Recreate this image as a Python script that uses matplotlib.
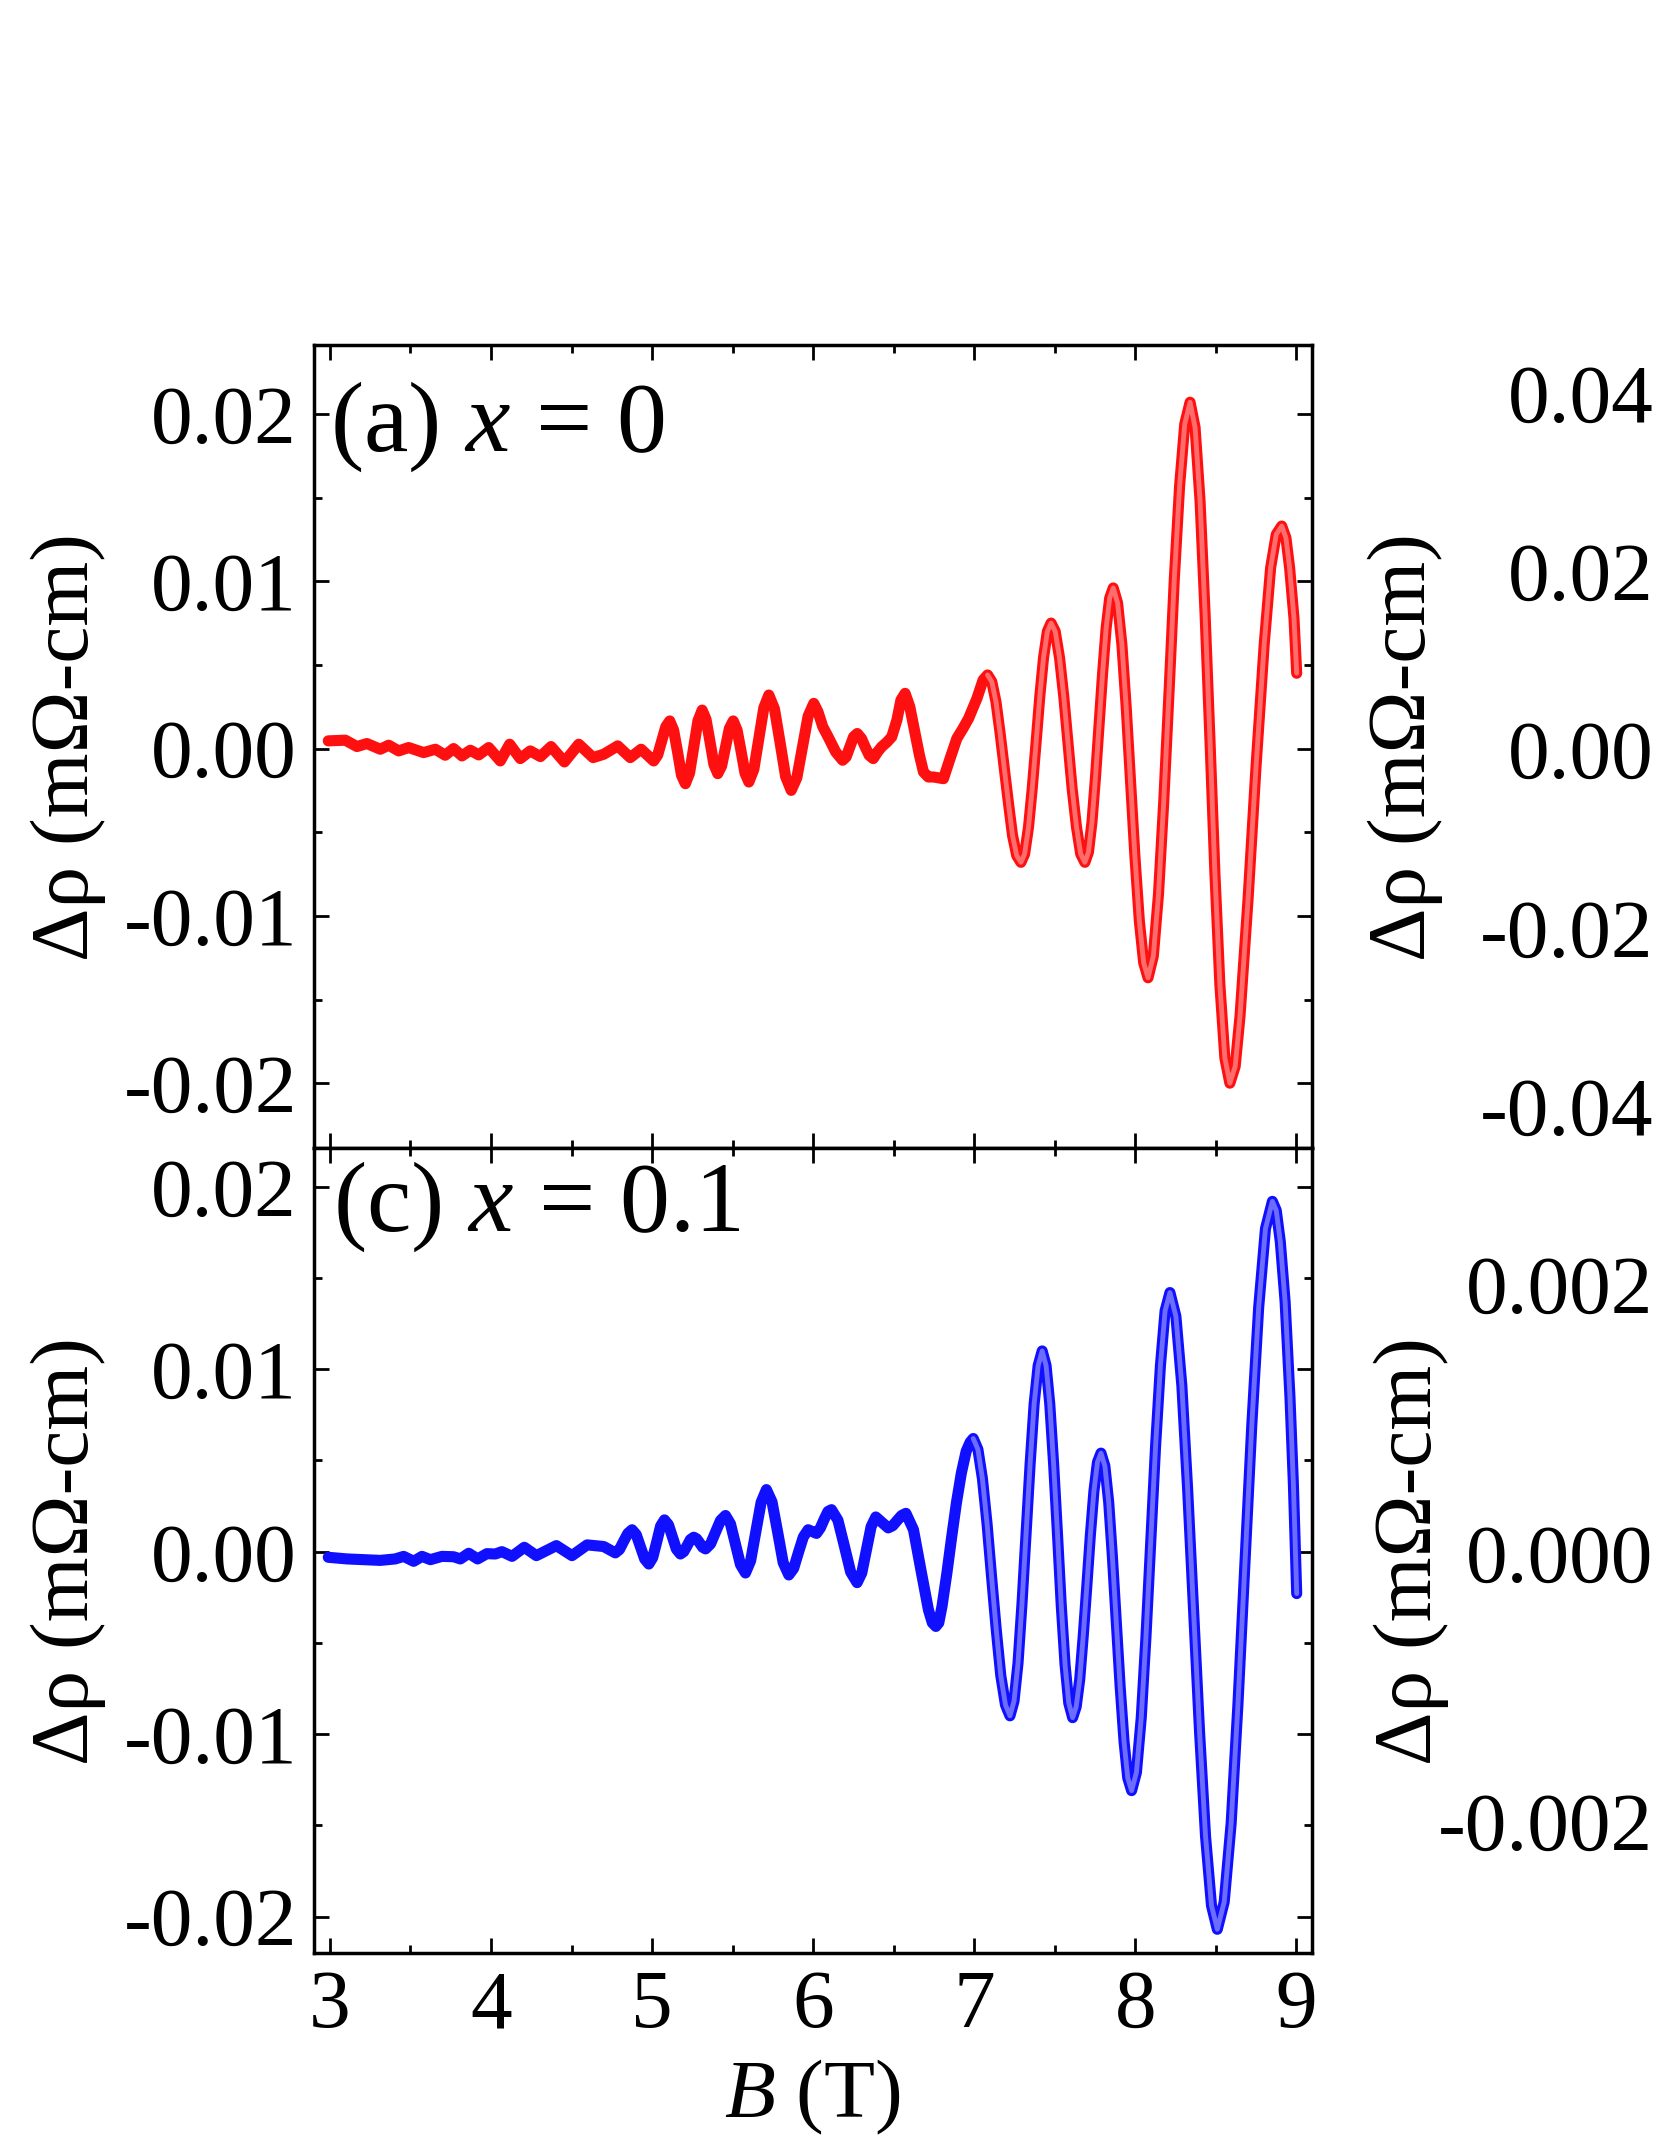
import matplotlib
matplotlib.use("Agg")
import matplotlib.pyplot as plt
from matplotlib.ticker import MultipleLocator, FormatStrFormatter

# ---- data: B (T) and delta rho (mOhm-cm) ----
field_a = [2.99, 3.096, 3.168, 3.230, 3.313, 3.365, 3.427, 3.489, 3.582, 3.655,
           3.716, 3.768, 3.820, 3.872, 3.924, 3.986, 4.058, 4.116, 4.182, 4.244,
           4.307, 4.373, 4.456, 4.545, 4.634, 4.700, 4.787, 4.865, 4.932, 5.010,
           5.035, 5.060, 5.085, 5.110, 5.134, 5.159, 5.183, 5.207, 5.233, 5.259, 5.285, 5.311,
           5.335, 5.360, 5.384, 5.408, 5.432, 5.456, 5.480, 5.504, 5.528, 5.553, 5.577, 5.601,
           5.632, 5.663, 5.694, 5.725, 5.760, 5.795, 5.829, 5.864, 5.899, 5.934, 5.969, 6.004,
           6.030, 6.060, 6.093, 6.140, 6.183, 6.205, 6.228, 6.251, 6.274, 6.300, 6.323, 6.348, 6.373,
           6.400, 6.425, 6.460, 6.488, 6.520, 6.545, 6.571, 6.600, 6.633, 6.660, 6.685, 6.715, 6.747,
           6.809, 6.850, 6.892, 6.930, 6.965, 7.017, 7.055, 7.083,
           7.109, 7.135, 7.161, 7.187, 7.213, 7.238, 7.264, 7.290,
           7.313, 7.337, 7.360, 7.384, 7.407, 7.430, 7.454, 7.477,
           7.503, 7.530, 7.556, 7.582, 7.608, 7.635, 7.661, 7.687,
           7.709, 7.731, 7.753, 7.775, 7.797, 7.819, 7.841, 7.863,
           7.890, 7.917, 7.944, 7.971, 7.998, 8.025, 8.052, 8.079,
           8.112, 8.144, 8.177, 8.210, 8.242, 8.275, 8.307, 8.340,
           8.371, 8.402, 8.433, 8.464, 8.494, 8.525, 8.556, 8.587,
           8.620, 8.650, 8.700, 8.750, 8.800, 8.840, 8.875, 8.909,
           8.935, 8.958, 8.985, 9.002]
drho_a = [0.00046, 0.0005, 0.00012, 0.0003, -0.00004, 0.0002, -0.00014, 0.00006, -0.00024, -0.00004,
          -0.0004, 0.0, -0.00044, -0.0001, -0.00038, 0.00006, -0.00074, 0.00026, -0.0006, -0.00014,
          -0.00048, 0.00012, -0.0008, 0.00026, -0.00054, -0.00034, 0.00016, -0.00054, -0.00004, -0.00074,
          -0.00039, 0.00046, 0.0013, 0.00165, 0.0011, -0.00023, -0.0016, -0.0021, -0.00146, 0.0001, 0.00166, 0.0023,
          0.00175, 0.0004, -0.00095, -0.0015, -0.00104, 0.00008, 0.0012, 0.00165, 0.0011, -0.00018, -0.00147, -0.0020,
          -0.00124, 0.0006, 0.00244, 0.0032, 0.00237, 0.00035, -0.00167, -0.0025, -0.00174, 0.0001, 0.00194, 0.0027,
          0.0022, 0.0013, 0.0007, -0.0002, -0.0007, -0.0005, 0.0001, 0.0007, 0.0009, 0.0006, 0.0001, -0.0004, -0.0006,
          -0.0002, 0.0001, 0.0004, 0.0007, 0.0017, 0.0029, 0.0033, 0.0025, 0.0009, -0.0004, -0.0014, -0.0017, -0.0017,
          -0.0018, -0.0006, 0.0006, 0.0012, 0.0018, 0.0030, 0.0041, 0.0044,
          0.0040, 0.0028, 0.0009, -0.0012, -0.0033, -0.0052, -0.0064, -0.0068,
          -0.0063, -0.0047, -0.0024, 0.00035, 0.0031, 0.0054, 0.0070, 0.0075,
          0.0070, 0.0054, 0.0031, 0.00035, -0.0024, -0.0047, -0.0063, -0.0068,
          -0.0062, -0.0044, -0.0017, 0.0014, 0.0045, 0.0072, 0.0090, 0.0096,
          0.0087, 0.0062, 0.0024, -0.0021, -0.0065, -0.0103, -0.0128, -0.0137,
          -0.0124, -0.0087, -0.0031, 0.0035, 0.0101, 0.0157, 0.0194, 0.0207,
          0.0192, 0.0148, 0.0081, 0.0004, -0.0074, -0.0141, -0.0185, -0.0200,
          -0.0190, -0.0160, -0.0090, -0.0010, 0.0062, 0.0108, 0.0128, 0.0133,
          0.0126, 0.0108, 0.0078, 0.0045]

field_c = [2.99, 3.106, 3.209, 3.313, 3.406, 3.458, 3.520, 3.572, 3.624, 3.696,
           3.768, 3.810, 3.862, 3.917, 3.975, 4.027, 4.068, 4.131, 4.207, 4.282,
           4.406, 4.503, 4.597, 4.700,
           4.772, 4.798, 4.824, 4.850, 4.876, 4.902, 4.928, 4.954, 4.980, 5.004, 5.029, 5.053, 5.077,
           5.102, 5.127, 5.151, 5.176, 5.197, 5.218, 5.238, 5.259, 5.277, 5.296, 5.314, 5.332,
           5.363, 5.394, 5.425, 5.456,
           5.487, 5.518, 5.549, 5.580, 5.612, 5.645, 5.677, 5.710, 5.745, 5.780, 5.814, 5.849,
           5.879, 5.909, 5.939, 5.969, 5.995, 6.021, 6.045, 6.070, 6.092, 6.114,
           6.154, 6.194, 6.233, 6.273, 6.302, 6.331, 6.360, 6.389, 6.428, 6.466, 6.494, 6.521,
           6.549, 6.576, 6.623, 6.669, 6.716, 6.740, 6.762,
           6.780, 6.800, 6.830, 6.860, 6.890, 6.920, 6.950, 6.975, 6.994,
           7.023, 7.051, 7.080, 7.108, 7.137, 7.165, 7.194, 7.222,
           7.247, 7.272, 7.297, 7.322, 7.347, 7.372, 7.397, 7.422,
           7.446, 7.469, 7.493, 7.517, 7.540, 7.564, 7.587, 7.611,
           7.633, 7.655, 7.677, 7.699, 7.721, 7.743, 7.765, 7.787,
           7.811, 7.835, 7.858, 7.882, 7.906, 7.930, 7.953, 7.977,
           8.007, 8.037, 8.066, 8.096, 8.126, 8.156, 8.185, 8.215,
           8.252, 8.289, 8.325, 8.362, 8.399, 8.436, 8.473, 8.509,
           8.552, 8.595, 8.637, 8.680, 8.723, 8.766, 8.808, 8.851,
           8.875, 8.900, 8.930, 8.960, 8.981, 9.002]
drho_c = [-0.00031, -0.0004, -0.00044, -0.00048, -0.0004, -0.00026, -0.00053, -0.00026, -0.00044, -0.00026,
          -0.00028, -0.0004, -0.00009, -0.0004, -0.00011, -0.00013, 0.0, -0.00026, 0.00024, -0.00022,
          0.00033, -0.00022, 0.00037, 0.00028,
          -0.00007, 0.00012, 0.00057, 0.001, 0.0012, 0.00093, 0.00026, -0.0004, -0.00068, -0.00033, 0.00053, 0.0014, 0.00174,
          0.00147, 0.0008, 0.00014, -0.00013, 0.0, 0.00033, 0.00066, 0.00079, 0.0007, 0.00047, 0.00024, 0.00015,
          0.00042, 0.00107, 0.00171, 0.00198,
          0.00152, 0.0004, -0.00071, -0.00117, -0.0005, 0.00112, 0.0027, 0.0034, 0.00272, 0.00106, -0.0006, -0.00128,
          -0.00092, -0.00004, 0.0008, 0.0012, 0.0011, 0.001, 0.0013, 0.0018, 0.0022, 0.0023,
          0.00172, 0.0003, -0.00112, -0.0017, -0.00117, 0.0001, 0.00137, 0.0019, 0.0016, 0.0013, 0.00142, 0.0017,
          0.00198, 0.0021, 0.0012, -0.001, -0.0032, -0.0039, -0.0041,
          -0.0039, -0.0030, -0.0012, 0.0008, 0.0027, 0.0043, 0.0055, 0.0060, 0.0062,
          0.0056, 0.0040, 0.0015, -0.0014, -0.0043, -0.0068, -0.0084, -0.0090,
          -0.0082, -0.0061, -0.0028, 0.0010, 0.0048, 0.0081, 0.0102, 0.0110,
          0.0102, 0.0081, 0.0048, 0.00095, -0.0029, -0.0062, -0.0083, -0.0091,
          -0.0085, -0.0070, -0.0046, -0.0019, 0.0009, 0.0033, 0.0049, 0.0054,
          0.0047, 0.0027, -0.0003, -0.0039, -0.0074, -0.0104, -0.0124, -0.0131,
          -0.0121, -0.0091, -0.0047, 0.0006, 0.0058, 0.0102, 0.0132, 0.0142,
          0.0129, 0.0091, 0.0034, -0.0033, -0.0099, -0.0156, -0.0194, -0.0207,
          -0.0192, -0.0149, -0.0084, -0.0008, 0.0069, 0.0134, 0.0177, 0.0192,
          0.0187, 0.0170, 0.0137, 0.0085, 0.0038, -0.0023]

x_ticks = [3, 4, 5, 6, 7, 8, 9]
ylabel = "\u0394\u03c1 (m\u03a9-cm)"

plt.rcParams.update({
    "font.family": "Liberation Serif",
    "mathtext.fontset": "custom",
    "mathtext.rm": "Liberation Serif",
    "mathtext.it": "Liberation Serif:italic",
    "axes.unicode_minus": False,
    "axes.linewidth": 2.5,
})

fig = plt.figure(figsize=(16.61, 21.49), dpi=100)

# left column (visible), right column mostly cut off at the figure edge
ax_a = fig.add_axes([0.1889, 0.4656, 0.6008, 0.3737])
ax_c = fig.add_axes([0.1889, 0.0912, 0.6008, 0.3744])
ax_b = fig.add_axes([1.0054, 0.4656, 0.6008, 0.3737])
ax_d = fig.add_axes([1.0054, 0.0912, 0.6008, 0.3744])


def style(ax, major, minor, fmt):
    ax.yaxis.set_major_locator(MultipleLocator(major))
    ax.yaxis.set_minor_locator(MultipleLocator(minor))
    ax.yaxis.set_major_formatter(FormatStrFormatter(fmt))
    ax.set_xticks(x_ticks)
    ax.xaxis.set_minor_locator(MultipleLocator(0.5))
    ax.xaxis.set_major_formatter(FormatStrFormatter("%d"))
    ax.tick_params(which="both", direction="in", top=True, right=True,
                   labelsize=60, pad=12)
    ax.tick_params(which="major", length=10.5, width=2)
    ax.tick_params(which="minor", length=5.5, width=2)


def draw_trace(ax, field, drho, color, light, b_hollow):
    # dense open circles in the original: solid at low field, hollow-looking at high field
    ax.plot(field, drho, color=color, lw=8,
            solid_joinstyle="round", solid_capstyle="round")
    hi = [i for i, b in enumerate(field) if b >= b_hollow]
    ax.plot([field[i] for i in hi], [drho[i] for i in hi], color=light, lw=3.5,
            alpha=0.5, solid_joinstyle="round", solid_capstyle="round")


draw_trace(ax_a, field_a, drho_a, "#ff1010", "#ffc8c8", 7.083)
draw_trace(ax_c, field_c, drho_c, "#1010ff", "#c8c8ff", 6.994)

for ax in (ax_a, ax_c, ax_b, ax_d):
    ax.set_xlim(2.9, 9.095)

ax_a.set_ylim(-0.0239, 0.0241)
ax_c.set_ylim(-0.022, 0.0221)
ax_b.set_ylim(-0.0448, 0.0454)
ax_d.set_ylim(-0.00298, 0.00301)

style(ax_a, 0.01, 0.005, "%.2f")
style(ax_c, 0.01, 0.005, "%.2f")
style(ax_b, 0.02, 0.01, "%.2f")
style(ax_d, 0.002, 0.001, "%.3f")

ax_a.tick_params(labelbottom=False)
ax_b.tick_params(labelbottom=False)
ax_d.tick_params(labelbottom=False)

ax_a.text(0.0165, 0.898, "(a) $x$ = 0", transform=ax_a.transAxes,
          fontsize=72, va="center", ha="left")
ax_c.text(0.019, 0.928, "(c) $x$ = 0.1", transform=ax_c.transAxes,
          fontsize=72, va="center", ha="left")

ax_a.set_ylabel(ylabel, fontsize=60, va="center")
ax_a.yaxis.set_label_coords(-0.2458, 0.5)
ax_c.set_ylabel(ylabel, fontsize=60, va="center")
ax_c.yaxis.set_label_coords(-0.2458, 0.5)
ax_b.set_ylabel(ylabel, fontsize=60, va="center")
ax_b.yaxis.set_label_coords(-0.2655, 0.5)
ax_d.set_ylabel(ylabel, fontsize=60, va="center")
ax_d.yaxis.set_label_coords(-0.2588, 0.5)

ax_c.set_xlabel("$B$ (T)", fontsize=60, va="center")
ax_c.xaxis.set_label_coords(0.5, -0.179)

fig.savefig("out.png", dpi=100)
plt.close(fig)
